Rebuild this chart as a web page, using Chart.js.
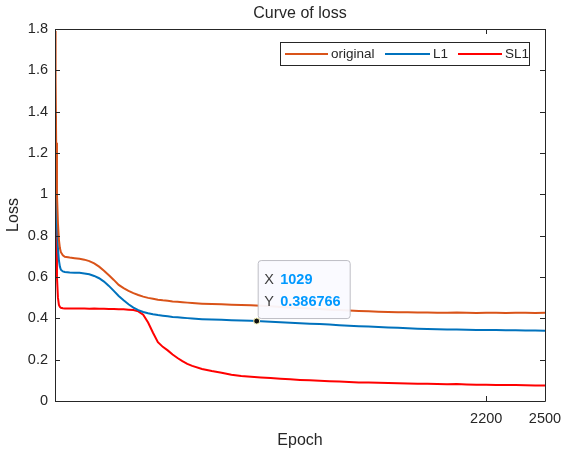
<!DOCTYPE html>
<html>
<head>
<meta charset="utf-8">
<script src="https://cdn.jsdelivr.net/npm/chart.js@4.4.1/dist/chart.umd.min.js"></script>
<style>
  html, body { margin: 0; padding: 0; background: #fff; }
  #wrap { width: 562px; height: 452px; }
</style>
</head>
<body>
<div id="wrap"><canvas id="myChart" width="562" height="452"></canvas></div>
<script>
// data
var epochs = [0, 3, 6, 10, 15, 20, 25, 30, 40, 50, 75, 100, 125, 150, 175, 200, 225, 250, 275, 300,
  325, 350, 375, 400, 425, 450, 475, 500, 525, 550, 575, 600, 625, 650, 675, 700, 750, 800, 850, 900,
  950, 1000, 1050, 1100, 1150, 1200, 1250, 1300, 1350, 1400, 1450, 1500, 1550, 1600, 1650, 1700, 1750,
  1800, 1850, 1900, 1950, 2000, 2050, 2100, 2150, 2200, 2250, 2300, 2350, 2400, 2450, 2500];

var original = [1.79, 1.55, 1.25, 1.0, 0.86, 0.78, 0.74, 0.72, 0.705, 0.698, 0.694, 0.691, 0.688, 0.684, 0.677, 0.666, 0.65, 0.63, 0.608, 0.586,
  0.562, 0.546, 0.533, 0.522, 0.513, 0.505, 0.499, 0.495, 0.49, 0.487, 0.485, 0.482, 0.48, 0.478, 0.476, 0.474, 0.471, 0.469, 0.468, 0.466,
  0.465, 0.463, 0.461, 0.458, 0.455, 0.452, 0.45, 0.447, 0.445, 0.442, 0.44, 0.438, 0.436, 0.434, 0.432, 0.431, 0.43,
  0.429, 0.428, 0.428, 0.427, 0.427, 0.428, 0.427, 0.426, 0.427, 0.427, 0.426, 0.427, 0.427, 0.426, 0.427];

var l1 = [1.38, 1.2, 1.0, 0.85, 0.74, 0.68, 0.65, 0.635, 0.627, 0.624, 0.622, 0.621, 0.62, 0.617, 0.613, 0.605, 0.594, 0.578, 0.557, 0.533,
  0.508, 0.487, 0.468, 0.452, 0.44, 0.431, 0.425, 0.42, 0.416, 0.413, 0.41, 0.407, 0.405, 0.403, 0.401, 0.399, 0.396, 0.394, 0.393, 0.391,
  0.389, 0.388, 0.386, 0.384, 0.381, 0.379, 0.376, 0.374, 0.372, 0.37, 0.367, 0.364, 0.362, 0.36, 0.358, 0.356, 0.354,
  0.352, 0.35, 0.348, 0.347, 0.346, 0.346, 0.345, 0.344, 0.343, 0.343, 0.342, 0.342, 0.341, 0.341, 0.340];

var sl1 = [1.38, 1.1, 0.8, 0.6, 0.5, 0.465, 0.455, 0.451, 0.449, 0.448, 0.448, 0.447, 0.447, 0.447, 0.446, 0.447, 0.446, 0.446, 0.445, 0.445,
  0.444, 0.444, 0.442, 0.44, 0.434, 0.418, 0.38, 0.33, 0.285, 0.262, 0.245, 0.225, 0.208, 0.193, 0.18, 0.17, 0.155, 0.145, 0.137, 0.127,
  0.121, 0.117, 0.114, 0.111, 0.108, 0.105, 0.102, 0.1, 0.098, 0.096, 0.094, 0.092, 0.09, 0.089, 0.088, 0.087, 0.086,
  0.085, 0.084, 0.083, 0.082, 0.081, 0.082, 0.08, 0.079, 0.079, 0.078, 0.077, 0.077, 0.076, 0.075, 0.075];

var seriesNames = ["original", "L1", "SL1"];
var seriesColors = ["#D95319", "#0072BD", "#FF0000"];
var xTicks = [2200, 2500];
var yTicks = [0, 0.2, 0.4, 0.6, 0.8, 1, 1.2, 1.4, 1.6, 1.8];
var tipX = 1029;
var tipY = 0.386766;

var fontFam = "'Liberation Sans', Arial, Helvetica, sans-serif";
var axisColor = "#262626";

function toPoints(vals) {
  return epochs.map(function (e, i) { return { x: e, y: vals[i] }; });
}

// box, inward ticks, title, labels, legend and data tip
var matlabLook = {
  id: "matlabLook",
  afterDraw: function (chart) {
    var ctx = chart.ctx;
    var a = chart.chartArea;
    var xs = chart.scales.x;
    var ys = chart.scales.y;
    var tl = 5;
    ctx.save();
    ctx.strokeStyle = axisColor;
    ctx.lineWidth = 1;
    ctx.beginPath();
    ctx.rect(Math.round(a.left) + 0.5, Math.round(a.top) + 0.5, Math.round(a.right - a.left), Math.round(a.bottom - a.top));
    ctx.stroke();
    ctx.beginPath();
    yTicks.forEach(function (v) {
      var py = Math.round(ys.getPixelForValue(v)) + 0.5;
      ctx.moveTo(a.left, py); ctx.lineTo(a.left + tl, py);
      ctx.moveTo(a.right, py); ctx.lineTo(a.right - tl, py);
    });
    xTicks.forEach(function (v) {
      var px = Math.round(xs.getPixelForValue(v)) + 0.5;
      ctx.moveTo(px, a.bottom); ctx.lineTo(px, a.bottom - tl);
      ctx.moveTo(px, a.top); ctx.lineTo(px, a.top + tl);
    });
    ctx.stroke();

    // title and axis labels
    ctx.fillStyle = axisColor;
    ctx.textAlign = "center";
    ctx.textBaseline = "middle";
    ctx.font = "16px " + fontFam;
    var cx = (a.left + a.right) / 2;
    ctx.fillText("Curve of loss", cx, 14);
    ctx.fillText("Epoch", cx, 441);
    ctx.save();
    ctx.translate(14, (a.top + a.bottom) / 2);
    ctx.rotate(-Math.PI / 2);
    ctx.fillText("Loss", 0, 0);
    ctx.restore();

    // legend
    var lx = 280.5, ly = 42.5, lw = 249, lh = 23;
    ctx.fillStyle = "#fff";
    ctx.fillRect(lx, ly, lw, lh);
    ctx.strokeStyle = axisColor;
    ctx.strokeRect(lx, ly, lw, lh);
    var items = [
      { x1: 285, x2: 328, tx: 331 },
      { x1: 385, x2: 430, tx: 433 },
      { x1: 458, x2: 502, tx: 505 }
    ];
    ctx.font = "13.5px " + fontFam;
    ctx.textAlign = "left";
    items.forEach(function (it, i) {
      ctx.strokeStyle = seriesColors[i];
      ctx.lineWidth = 2;
      ctx.beginPath();
      ctx.moveTo(it.x1, ly + lh / 2);
      ctx.lineTo(it.x2, ly + lh / 2);
      ctx.stroke();
      ctx.fillStyle = axisColor;
      ctx.fillText(seriesNames[i], it.tx, ly + lh / 2 + 0.5);
    });

    // data tip
    var px = xs.getPixelForValue(tipX);
    var py = ys.getPixelForValue(tipY);
    var bx = px + 1.5, by = py - 60.5, bw = 92, bh = 58, r = 3;
    ctx.fillStyle = "rgba(250,250,255,0.95)";
    ctx.strokeStyle = "#bdbdc4";
    ctx.lineWidth = 1;
    ctx.beginPath();
    ctx.moveTo(bx + r, by);
    ctx.lineTo(bx + bw - r, by);
    ctx.arcTo(bx + bw, by, bx + bw, by + r, r);
    ctx.lineTo(bx + bw, by + bh - r);
    ctx.arcTo(bx + bw, by + bh, bx + bw - r, by + bh, r);
    ctx.lineTo(bx + r, by + bh);
    ctx.arcTo(bx, by + bh, bx, by + bh - r, r);
    ctx.lineTo(bx, by + r);
    ctx.arcTo(bx, by, bx + r, by, r);
    ctx.closePath();
    ctx.fill();
    ctx.stroke();
    ctx.font = "14.5px " + fontFam;
    ctx.fillStyle = "#404040";
    ctx.fillText("X", bx + 6, by + 19);
    ctx.fillText("Y", bx + 6, by + 41);
    ctx.font = "bold 14.5px " + fontFam;
    ctx.fillStyle = "#0099FF";
    ctx.fillText(String(tipX), bx + 22, by + 19);
    ctx.fillText(String(tipY), bx + 22, by + 41);
    ctx.beginPath();
    ctx.arc(px, py, 3, 0, Math.PI * 2);
    ctx.fillStyle = "#111";
    ctx.fill();
    ctx.strokeStyle = "#f3f0b0";
    ctx.lineWidth = 1;
    ctx.stroke();
    ctx.restore();
  }
};

var ctx = document.getElementById("myChart").getContext("2d");
var myChart = new Chart(ctx, {
  type: "line",
  data: {
    datasets: [0, 1, 2].map(function (i) {
      return {
        label: seriesNames[i],
        data: toPoints([original, l1, sl1][i]),
        borderColor: seriesColors[i],
        borderWidth: 2,
        pointRadius: 0,
        tension: 0,
        fill: false
      };
    })
  },
  options: {
    responsive: false,
    animation: false,
    layout: { padding: { left: 0, top: 29, right: 17, bottom: 0 } },
    plugins: {
      legend: { display: false },
      tooltip: { enabled: false },
      title: { display: false }
    },
    scales: {
      x: {
        type: "linear",
        min: 0,
        max: 2500,
        grid: { display: false, drawTicks: false, tickLength: 0 },
        border: { display: false },
        afterBuildTicks: function (axis) {
          axis.ticks = xTicks.map(function (v) { return { value: v }; });
        },
        afterFit: function (axis) {
          axis.height = 51;
          axis.paddingLeft = 0;
          axis.paddingRight = 0;
        },
        ticks: {
          padding: 9,
          maxRotation: 0,
          autoSkip: false,
          color: axisColor,
          font: { family: fontFam, size: 14.5 },
          callback: function (v) { return String(v); }
        }
      },
      y: {
        min: 0,
        max: 1.8,
        grid: { display: false, drawTicks: false, tickLength: 0 },
        border: { display: false },
        afterBuildTicks: function (axis) {
          axis.ticks = yTicks.map(function (v) { return { value: v }; });
        },
        afterFit: function (axis) {
          axis.width = 55;
          axis.paddingTop = 0;
          axis.paddingBottom = 0;
        },
        ticks: {
          padding: 7,
          autoSkip: false,
          color: axisColor,
          font: { family: fontFam, size: 14.5 },
          callback: function (v) { return String(v); }
        }
      }
    }
  },
  plugins: [matlabLook]
});
</script>
</body>
</html>
